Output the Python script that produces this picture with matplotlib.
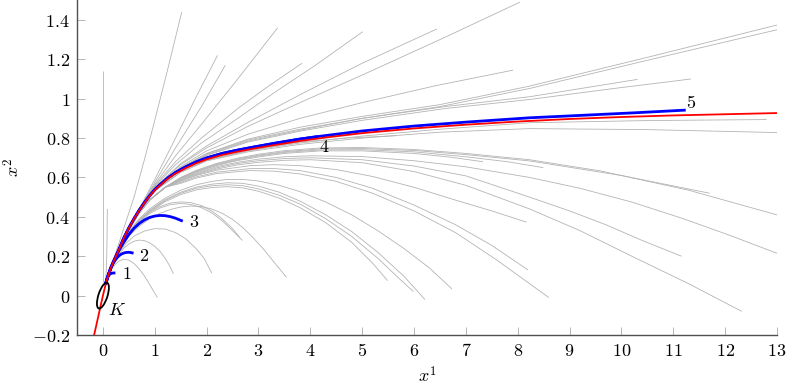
import matplotlib
matplotlib.use("Agg")
import matplotlib.pyplot as plt
from matplotlib.patches import Ellipse
from matplotlib.transforms import ScaledTranslation

plt.rcParams['mathtext.fontset'] = 'cm'
plt.rcParams['font.family'] = 'serif'

# ---------------- data ----------------
red_x = [-0.17, -0.11, -0.05, 0, 0.05, 0.1, 0.15, 0.2, 0.3, 0.4, 0.5, 0.6, 0.7, 0.8, 0.9, 1.0,
         1.1, 1.25, 1.4, 1.6, 1.8, 2.0, 2.3, 2.6, 2.9, 3.3, 3.8, 4.3, 5, 6, 7, 8, 9, 10, 11, 12, 13]
red_y = [-0.2, -0.13, -0.058, 0.0, 0.055, 0.1, 0.138, 0.17, 0.228, 0.29, 0.343, 0.39, 0.432,
         0.47, 0.505, 0.535, 0.56, 0.593, 0.62, 0.648, 0.672, 0.692, 0.714, 0.731, 0.746, 0.764,
         0.785, 0.803, 0.825, 0.849, 0.868, 0.884, 0.897, 0.907, 0.915, 0.921, 0.927]

blue_1 = [(0.05, 0.06), (0.09, 0.093), (0.12, 0.106), (0.16, 0.113), (0.2, 0.115), (0.24, 0.115)]
blue_2 = [(0.05, 0.06), (0.1, 0.103), (0.15, 0.14), (0.2, 0.165), (0.25, 0.185), (0.3, 0.2),
          (0.35, 0.21), (0.4, 0.216), (0.45, 0.219), (0.5, 0.22), (0.55, 0.218), (0.59, 0.215)]
blue_3 = [(0.05, 0.06), (0.1, 0.103), (0.15, 0.14), (0.2, 0.172), (0.3, 0.225), (0.4, 0.27),
          (0.5, 0.31), (0.6, 0.342), (0.7, 0.366), (0.8, 0.384), (0.9, 0.397), (1.0, 0.404),
          (1.1, 0.407), (1.2, 0.406), (1.3, 0.401), (1.4, 0.393), (1.54, 0.378)]
blue_4 = [(0.05, 0.055), (0.1, 0.1), (0.15, 0.138), (0.2, 0.17), (0.3, 0.229), (0.4, 0.291),
          (0.5, 0.344), (0.6, 0.391), (0.7, 0.434), (0.8, 0.472), (0.9, 0.507), (1.0, 0.538),
          (1.1, 0.563), (1.25, 0.597), (1.4, 0.625), (1.6, 0.654), (1.8, 0.679), (2.0, 0.699),
          (2.3, 0.722), (2.6, 0.739), (2.9, 0.754), (3.3, 0.773), (3.8, 0.795), (4.15, 0.808)]
blue_5 = blue_4[:-1] + [(4.3, 0.813), (5, 0.836), (6, 0.861), (7, 0.881), (8.23, 0.903),
                        (9.2, 0.915), (10.3, 0.929), (11.24, 0.942)]
blue_labels = ["1", "2", "3", "4", "5"]
blue_label_pos = [(0.45, 0.11), (0.8, 0.2), (1.75, 0.373), (4.26, 0.755), (11.35, 0.98)]

# common start of the grey trajectories near the set K
stem_fan = [(0.05, 0.055), (0.1, 0.1), (0.2, 0.17), (0.35, 0.262), (0.5, 0.345), (0.7, 0.44)]
stem_low = [(0.05, 0.055), (0.1, 0.1), (0.2, 0.17), (0.35, 0.258), (0.5, 0.335), (0.7, 0.42),
            (0.9, 0.485), (1.2, 0.55)]

# grey trajectories: fan above the red curve
grey_fan = [
    [(0.0, 0.07), (0.0, 1.14)],
    [(0.05, 0.07), (0.07, 0.15), (0.08, 0.3), (0.085, 0.44)],
    [(0.05, 0.055), (0.15, 0.14), (0.3, 0.26), (0.45, 0.38), (0.6, 0.5), (0.8, 0.69), (1.0, 0.89),
     (1.25, 1.15), (1.52, 1.44)],
    [(0.05, 0.055), (0.1, 0.1), (0.2, 0.17), (0.35, 0.26), (0.5, 0.34), (0.7, 0.44), (1.0, 0.59),
     (1.4, 0.8), (1.8, 1.01), (2.21, 1.22)],
    stem_fan + [(1.0, 0.575), (1.4, 0.75), (1.9, 0.96), (2.36, 1.17)],
    stem_fan + [(1.0, 0.565), (1.4, 0.71), (1.9, 0.87), (2.6, 1.1), (3.37, 1.36)],
    stem_fan + [(1.0, 0.56), (1.4, 0.68), (1.9, 0.8), (2.6, 0.95), (3.2, 1.065), (3.84, 1.18)],
    stem_fan + [(1.0, 0.555), (1.4, 0.665), (1.9, 0.775), (2.6, 0.9), (3.3, 1.03), (4.1, 1.17),
                (5.01, 1.34)],
    stem_fan + [(1.0, 0.55), (1.5, 0.67), (2.0, 0.76), (2.8, 0.88), (3.8, 1.02), (5.0, 1.18),
                (6.44, 1.354)],
    stem_fan + [(1.0, 0.55), (1.5, 0.665), (2.0, 0.75), (2.8, 0.86), (3.8, 0.98), (5.0, 1.12),
                (6.5, 1.3), (8.04, 1.49)],
    stem_fan + [(1.0, 0.545), (1.5, 0.655), (2.0, 0.735), (2.8, 0.82), (3.8, 0.9), (5.0, 0.98),
                (6.4, 1.065), (7.91, 1.145)],
    stem_fan + [(1.0, 0.542), (1.5, 0.65), (2.0, 0.722), (2.8, 0.795), (3.8, 0.855), (5.0, 0.91),
                (6.5, 0.97), (8.23, 1.064), (10.5, 1.21), (13, 1.374)],
    stem_fan + [(1.0, 0.541), (1.5, 0.648), (2.0, 0.72), (2.8, 0.79), (3.8, 0.845), (5.0, 0.9),
                (6.5, 0.96), (8.23, 1.052), (10.5, 1.195), (13, 1.35)],
    stem_fan + [(1.0, 0.54), (1.5, 0.645), (2.0, 0.715), (2.8, 0.785), (3.8, 0.84), (5.0, 0.9),
                (6.6, 0.96), (8.23, 1.01), (10.31, 1.098)],
    stem_fan + [(1.0, 0.539), (1.5, 0.643), (2.0, 0.712), (2.8, 0.78), (3.8, 0.835), (5.0, 0.89),
                (6.6, 0.95), (8.23, 0.996), (9.8, 1.05), (11.34, 1.10)],
]

# grey trajectories hugging the red curve
grey_near = [
    stem_fan + [(1.0, 0.533), (1.5, 0.628), (2.0, 0.686), (2.8, 0.735), (3.8, 0.775), (5, 0.81),
                (6.5, 0.845), (8.23, 0.878), (10.5, 0.889), (12.8, 0.894)],
    stem_fan + [(1.0, 0.532), (1.5, 0.626), (2.0, 0.684), (2.8, 0.73), (3.8, 0.768), (5, 0.8),
                (6.5, 0.83), (8.23, 0.848), (10.5, 0.843), (13, 0.828)],
    stem_fan + [(1.0, 0.533), (1.5, 0.628), (2.0, 0.688), (2.8, 0.738), (3.8, 0.78), (4.7, 0.8),
                (5.66, 0.812)],
]

# grey trajectories that bend over (long arcs)
grey_arch_long = [
    stem_low + [(1.5, 0.6), (1.8, 0.636), (2.2, 0.672), (2.6, 0.698), (3.0, 0.718), (3.5, 0.736),
                (4.2, 0.75), (5.0, 0.752), (6.0, 0.742), (7.0, 0.722), (8.23, 0.69), (9.6, 0.633),
                (11.3, 0.535), (13, 0.41)],
    stem_low + [(1.5, 0.598), (1.8, 0.633), (2.2, 0.668), (2.6, 0.694), (3.0, 0.713), (3.5, 0.731),
                (4.2, 0.745), (5.0, 0.747), (6.0, 0.737), (7.0, 0.716), (8.23, 0.684), (10, 0.61),
                (11.7, 0.52)],
    stem_low + [(1.5, 0.596), (1.8, 0.63), (2.2, 0.665), (2.6, 0.69), (3.0, 0.709), (3.5, 0.727),
                (4.2, 0.74), (5.0, 0.741), (6.0, 0.73), (7.0, 0.705), (7.8, 0.68), (8.49, 0.65)],
    stem_low + [(1.5, 0.594), (1.8, 0.627), (2.2, 0.661), (2.6, 0.686), (3.0, 0.704), (3.5, 0.722),
                (4.2, 0.735), (5.0, 0.735), (6.0, 0.722), (6.7, 0.703), (7.33, 0.68)],
    stem_low + [(1.5, 0.59), (1.8, 0.622), (2.2, 0.655), (2.6, 0.677), (3.0, 0.693), (3.5, 0.705),
                (4.0, 0.71), (5.0, 0.706), (6.0, 0.685), (7.0, 0.654), (8.23, 0.6), (9.2, 0.545),
                (10.2, 0.475), (11.2, 0.39), (12.1, 0.305), (13, 0.215)],
    stem_low + [(1.5, 0.587), (1.8, 0.618), (2.2, 0.649), (2.6, 0.671), (3.0, 0.685), (3.5, 0.696),
                (4.0, 0.70), (5.0, 0.69), (6.0, 0.658), (7.0, 0.608), (8.23, 0.5), (9.0, 0.43),
                (9.7, 0.36), (10.4, 0.28), (11.16, 0.2)],
    stem_low + [(1.5, 0.584), (1.8, 0.614), (2.2, 0.643), (2.6, 0.664), (3.0, 0.677), (3.5, 0.687),
                (4.0, 0.69), (5.0, 0.675), (6.0, 0.63), (7.0, 0.56), (8.23, 0.44), (9.2, 0.33),
                (10.2, 0.2), (11.3, 0.06), (12.32, -0.08)],
    stem_low + [(1.5, 0.58), (1.8, 0.61), (2.2, 0.637), (2.84, 0.66), (3.3, 0.665), (3.8, 0.66),
                (4.5, 0.64), (5.2, 0.605), (6.0, 0.55), (6.8, 0.485), (7.5, 0.43), (8.17, 0.373)],
    stem_low + [(1.5, 0.575), (1.8, 0.603), (2.2, 0.627), (2.84, 0.645), (3.3, 0.645), (3.8, 0.635),
                (4.5, 0.6), (5.2, 0.545), (6.0, 0.46), (6.8, 0.36), (7.5, 0.255), (8.2, 0.13)],
    stem_low + [(1.5, 0.57), (1.8, 0.597), (2.2, 0.62), (2.84, 0.635), (3.3, 0.632), (3.8, 0.618),
                (4.5, 0.58), (5.2, 0.52), (6.0, 0.43), (6.8, 0.32), (7.6, 0.18), (8.6, -0.01)],
]

# grey trajectories that bend over (medium arcs)
grey_arch_mid = [
    [(0.05, 0.055), (0.1, 0.1), (0.2, 0.17), (0.35, 0.256), (0.5, 0.325), (0.7, 0.39), (0.9, 0.44),
     (1.2, 0.495), (1.5, 0.535), (1.8, 0.563), (2.1, 0.58), (2.4, 0.59), (2.7, 0.59), (3.0, 0.582),
     (3.4, 0.56), (3.8, 0.528), (4.3, 0.475), (4.8, 0.41), (5.3, 0.33), (5.8, 0.24), (6.3, 0.14),
     (6.73, 0.034)],
    [(0.05, 0.055), (0.1, 0.1), (0.2, 0.17), (0.35, 0.255), (0.5, 0.322), (0.7, 0.385), (0.9, 0.433),
     (1.2, 0.487), (1.5, 0.525), (1.8, 0.551), (2.1, 0.566), (2.4, 0.573), (2.7, 0.57), (3.0, 0.556),
     (3.4, 0.525), (3.8, 0.48), (4.3, 0.41), (4.8, 0.325), (5.3, 0.22), (5.8, 0.1), (6.21, -0.02)],
    [(0.05, 0.055), (0.1, 0.1), (0.2, 0.17), (0.35, 0.254), (0.5, 0.32), (0.7, 0.382), (0.9, 0.43),
     (1.2, 0.483), (1.5, 0.52), (1.8, 0.545), (2.1, 0.558), (2.4, 0.563), (2.7, 0.558), (3.0, 0.542),
     (3.4, 0.51), (3.8, 0.465), (4.3, 0.39), (4.8, 0.3), (5.3, 0.19), (5.7, 0.09), (5.99, 0.02)],
    [(0.05, 0.055), (0.1, 0.1), (0.2, 0.17), (0.35, 0.253), (0.5, 0.317), (0.7, 0.378), (0.9, 0.425),
     (1.2, 0.477), (1.5, 0.513), (1.8, 0.537), (2.1, 0.549), (2.4, 0.553), (2.7, 0.547), (3.0, 0.53),
     (3.4, 0.495), (3.8, 0.447), (4.3, 0.37), (4.8, 0.27), (5.2, 0.165), (5.49, 0.076)],
]

# grey trajectories that bend over (short arcs)
grey_arch_short = [
    [(0.05, 0.055), (0.1, 0.1), (0.2, 0.168), (0.35, 0.245), (0.5, 0.302), (0.7, 0.352), (0.9, 0.39),
     (1.1, 0.418), (1.3, 0.437), (1.5, 0.45), (1.7, 0.455), (1.9, 0.452), (2.1, 0.44), (2.3, 0.418),
     (2.5, 0.387), (2.7, 0.345), (2.9, 0.293), (3.1, 0.235), (3.3, 0.17), (3.54, 0.093)],
    [(0.05, 0.055), (0.1, 0.1), (0.2, 0.17), (0.35, 0.255), (0.5, 0.318), (0.7, 0.378), (0.9, 0.422),
     (1.1, 0.452), (1.3, 0.47), (1.5, 0.476), (1.7, 0.472), (1.9, 0.457), (2.1, 0.43), (2.3, 0.39),
     (2.5, 0.34), (2.64, 0.295)],
    [(0.05, 0.055), (0.1, 0.1), (0.2, 0.17), (0.35, 0.253), (0.5, 0.315), (0.7, 0.373), (0.9, 0.416),
     (1.1, 0.445), (1.3, 0.462), (1.5, 0.468), (1.7, 0.463), (1.9, 0.447), (2.1, 0.42), (2.3, 0.38),
     (2.5, 0.33), (2.69, 0.28)],
    [(0.05, 0.055), (0.1, 0.1), (0.2, 0.165), (0.3, 0.215), (0.45, 0.267), (0.6, 0.302), (0.8, 0.328),
     (1.0, 0.34), (1.2, 0.338), (1.4, 0.32), (1.6, 0.288), (1.8, 0.238), (1.95, 0.19), (2.1, 0.114)],
    [(0.05, 0.055), (0.1, 0.098), (0.2, 0.16), (0.3, 0.205), (0.4, 0.24), (0.5, 0.262), (0.6, 0.276),
     (0.7, 0.282), (0.8, 0.279), (0.9, 0.268), (1.0, 0.25), (1.1, 0.225), (1.2, 0.19), (1.3, 0.145),
     (1.36, 0.11)],
    [(0.05, 0.055), (0.1, 0.095), (0.15, 0.125), (0.2, 0.148), (0.3, 0.174), (0.4, 0.185), (0.5, 0.18),
     (0.6, 0.163), (0.7, 0.135), (0.8, 0.1), (0.9, 0.057), (1.0, 0.012), (1.05, -0.01)],
]

x_ticks = list(range(0, 14))
y_ticks = [-0.2, 0, 0.2, 0.4, 0.6, 0.8, 1.0, 1.2, 1.4]
y_tick_labels = ["$-0.2$", "$0$", "$0.2$", "$0.4$", "$0.6$", "$0.8$", "$1$", "$1.2$", "$1.4$"]
K_center = (0.0, 0.0)

# ---------------- figure ----------------
fig = plt.figure(figsize=(7.93, 3.87), dpi=100)
ax = fig.add_axes([0.0971, 0.1344, 0.8827, 0.8650])

grey_col = '#b4b4b4'
for fam in (grey_fan, grey_near, grey_arch_long, grey_arch_mid, grey_arch_short):
    for curve in fam:
        xs = [p[0] for p in curve]
        ys = [p[1] for p in curve]
        ax.plot(xs, ys, color=grey_col, lw=0.6, solid_capstyle='butt', solid_joinstyle='round',
                zorder=1)

for curve in (blue_5, blue_4, blue_3, blue_2, blue_1):
    ax.plot([p[0] for p in curve], [p[1] for p in curve], color=(0, 0, 1), lw=2.0,
            solid_capstyle='butt', solid_joinstyle='round', zorder=3)

ax.plot(red_x, red_y, color=(1, 0, 0), lw=1.3, solid_joinstyle='round', zorder=4)

for lab, (lx, ly) in zip(blue_labels, blue_label_pos):
    ax.text(lx, ly, "$%s$" % lab, fontsize=13, ha='center', va='center', zorder=5)

# ellipse K (size in inches, placed at data centre)
ell = Ellipse((0, 0), width=0.27, height=0.09, angle=72, fill=False, edgecolor='black', lw=1.3,
              transform=fig.dpi_scale_trans + ScaledTranslation(K_center[0], K_center[1], ax.transData),
              zorder=5)
ax.add_patch(ell)
ax.text(0.27, -0.075, "$K$", fontsize=13, ha='center', va='center')

ax.set_xlim(-0.5, 13)
ax.set_ylim(-0.2, 1.5)
ax.set_xticks(x_ticks)
ax.set_xticklabels(["$%d$" % t for t in x_ticks])
ax.set_yticks(y_ticks)
ax.set_yticklabels(y_tick_labels)
for s in ('top', 'right'):
    ax.spines[s].set_visible(False)
for s in ('left', 'bottom'):
    ax.spines[s].set_color('#505050')
    ax.spines[s].set_linewidth(1.0)
ax.tick_params(direction='in', length=5.5, width=0.6, color='#aaaaaa', labelsize=13, pad=5)
ax.set_xlabel("$x^1$", fontsize=13, labelpad=4)
ax.set_ylabel("$x^2$", fontsize=13, labelpad=6)

fig.savefig("out.png", dpi=100)
